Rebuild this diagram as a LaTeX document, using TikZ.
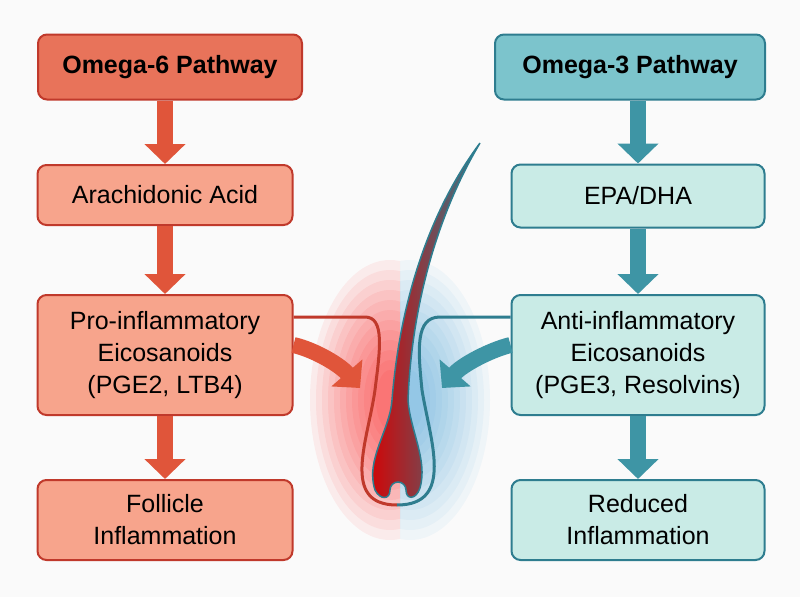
\documentclass[tikz,border=0pt]{standalone}
\usepackage{fontspec}
\setmainfont{Liberation Sans}
\usetikzlibrary{arrows.meta,shadings}

\definecolor{redhead}{HTML}{E8735A}
\definecolor{redbox}{HTML}{F7A48C}
\definecolor{redline}{HTML}{C0392B}
\definecolor{redarrow}{HTML}{E0553A}
\definecolor{bluehead}{HTML}{7CC4CC}
\definecolor{bluebox}{HTML}{C9EBE6}
\definecolor{blueline}{HTML}{2E7D8F}
\definecolor{bluearrow}{HTML}{3E95A5}

\tikzset{
  box/.style={draw, line width=2pt, rounded corners=9pt, align=center,
    font=\fontsize{25}{32}\selectfont, inner sep=0pt},
  redbx/.style={box, draw=redline, fill=redbox},
  bluebx/.style={box, draw=blueline, fill=bluebox},
  head/.style={font=\bfseries\fontsize{25}{32}\selectfont},
  flow/.style={line width=16pt, -{Triangle[length=20pt,width=40pt]}},
}

\begin{document}
\begin{tikzpicture}[x=1pt,y=-1pt]
  \useasboundingbox (0,0) rectangle (800,597);
  \fill[gray!4] (0,0) rectangle (800,597);
  % glow behind the follicle
  \begin{scope}
    \clip (280,200) rectangle (400,560);
    \foreach \r in {1,...,12}
      \fill[red, opacity=0.06] (390,400) ellipse ({8+6*\r} and {20+10*\r});
  \end{scope}
  \begin{scope}
    \clip (400,200) rectangle (520,560);
    \foreach \r in {1,...,12}
      \fill[cyan!70!blue, opacity=0.045] (410,400) ellipse ({8+6*\r} and {20+10*\r});
  \end{scope}

  % left column
  \node[redbx, head, fill=redhead, minimum width=264pt, minimum height=65pt] (o6) at (170,67) {Omega-6 Pathway};
  \node[redbx, minimum width=255pt, minimum height=60pt] (aa) at (165,195) {Arachidonic Acid};
  \node[redbx, minimum width=255pt, minimum height=120pt] (pro) at (165,355) {Pro-inflammatory\\Eicosanoids\\(PGE2, LTB4)};
  \node[redbx, minimum width=255pt, minimum height=80pt] (fi) at (165,520) {Follicle\\Inflammation};

  % right column
  \node[bluebx, head, fill=bluehead, minimum width=270pt, minimum height=65pt] (o3) at (630,67) {Omega-3 Pathway};
  \node[bluebx, minimum width=253pt, minimum height=63pt] (epa) at (638,196) {EPA/DHA};
  \node[bluebx, minimum width=253pt, minimum height=120pt] (anti) at (638,355) {Anti-inflammatory\\Eicosanoids\\(PGE3, Resolvins)};
  \node[bluebx, minimum width=253pt, minimum height=80pt] (ri) at (638,520) {Reduced\\Inflammation};

  % vertical arrows
  \foreach \a/\b in {o6/aa, aa/pro, pro/fi}
    \draw[flow, draw=redarrow, fill=redarrow] (\b.north |- \a.south) -- (\b.north);
  \foreach \a/\b in {o3/epa, epa/anti, anti/ri}
    \draw[flow, draw=bluearrow, fill=bluearrow] (\b.north |- \a.south) -- (\b.north);

  % follicle sheath
  \draw[line width=3pt, redline] (pro.east |- 0,317) -- (365,317)
    .. controls (385,317) and (380,350) .. (375,390)
    .. controls (368,440) and (340,505) .. (397,505);
  \draw[line width=3pt, blueline] (397,505)
    .. controls (455,505) and (430,440) .. (422,390)
    .. controls (418,350) and (415,317) .. (440,317) -- (anti.west |- 0,317);
  % hair shaft and bulb
  \shade[left color=red!85!black, right color=blueline, draw=blueline, line width=1.5pt]
    (480,143) .. controls (430,210) and (400,300) .. (392,400)
    .. controls (390,430) and (365,460) .. (375,490)
    .. controls (380,500) and (390,500) .. (390,490)
    arc[start angle=180, end angle=360, radius=8]
    .. controls (406,500) and (416,500) .. (420,488)
    .. controls (428,460) and (410,430) .. (408,400)
    .. controls (412,300) and (440,210) .. cycle;

  % curved arrows into the follicle
  \coordinate (lt) at (360,388);
  \coordinate (rt) at (442,388);
  \draw[flow, draw=redarrow, fill=redarrow] (pro.east |- 0,345) .. controls (315,350) and (340,365) .. (lt);
  \draw[flow, draw=bluearrow, fill=bluearrow] (anti.west |- 0,345) .. controls (490,350) and (462,365) .. (rt);
\end{tikzpicture}
\end{document}
